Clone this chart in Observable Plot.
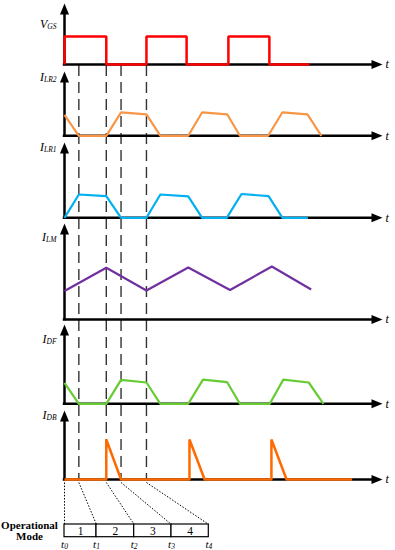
<!DOCTYPE html>
<html><head><meta charset="utf-8">
<script src="https://cdn.jsdelivr.net/npm/d3@7"></script>
<script src="https://cdn.jsdelivr.net/npm/@observablehq/plot@0.6"></script>
<style>body{margin:0;background:#fff;}</style>
</head><body><div id="chart"></div>
<script>
// ---------- data (time in arbitrary units: one switching period = 10) ----------
const vgs  = [[0,0],[0,28],[5.1,28],[5.1,0],[10,0],[10,28],[14.9,28],[14.9,0],[20,0],[20,28],[25,28],[25,0],[29.9,0]];
const iLr2 = [[0,21],[1.75,0],[5.1,0],[6.9,23.5],[10,21.5],[11.7,0],[15.1,0],[16.8,23.5],[19.85,21.5],[21.4,0],[24.85,0],[26.6,23.5],[29.65,21.5],[31.35,0]];
const iLr1 = [[0,0],[1.75,23.3],[5.1,21.6],[6.9,0],[10,0],[11.7,23.3],[15.1,21.5],[16.8,0],[19.8,0],[21.6,23.8],[24.9,21.6],[26.6,0],[29.7,0]];
const iLm  = [[0,28.5],[5.1,51.7],[10,29],[15.1,52],[20.2,29.5],[25.3,53],[30.1,30]];
const iDf  = [[0,21],[1.75,0],[5.1,0],[6.9,24],[10,21.3],[11.7,0],[15.1,0],[16.9,24.2],[19.85,21.6],[21.4,0],[25.05,0],[26.7,24.2],[29.8,21.3],[31.6,0]];
const iDb  = [[0,0],[5.1,0],[5.1,40],[6.9,0],[15.25,0],[15.25,40],[17.1,0],[25.25,0],[25.25,40],[27.1,0],[35.1,0]];
const signalNames  = ["V_GS","I_LR2","I_LR1","I_LM","I_DF","I_DB"];
const signalColors = ["#ff0000","#f79646","#00b0f0","#7030a0","#66cc33","#ff6a00"];
const instants      = [0, 1.75, 5.1, 6.9, 10];
const instantLabels = ["t_0","t_1","t_2","t_3","t_4"];
const modes    = ["1","2","3","4"];
const rowTitle = ["Operational","Mode"];
const axisLabel = "t";

// ---------- layout ----------
const W = 395, H = 550;
const pxPerUnit = 8.195, originPx = 64;
const ux = px => (px - originPx) / pxPerUnit;
const baselines = [64, 135.3, 217.3, 319, 403.3, 479];
const tips      = [3, 71, 142, 223, 324, 410];
const labelY    = [24, 77, 147, 237, 339, 415];
const boxX      = [64, 96, 133.7, 171, 208.3].map(ux);
const serif = "'Liberation Serif','Times New Roman',serif";
const signals = [vgs, iLr2, iLr1, iLm, iDf, iDb];
const idx = d3.range(signals.length);

const arrowUp = {draw(ctx){ ctx.moveTo(0,0); ctx.lineTo(-4.5,11); ctx.lineTo(4.5,11); ctx.closePath(); }};
const arrowRight = {draw(ctx){ ctx.moveTo(0,0); ctx.lineTo(-11,-4.5); ctx.lineTo(-11,4.5); ctx.closePath(); }};

const marks = [
  Plot.ruleX(instants.slice(1), {y1: 65, y2: 479, stroke: "#333", strokeWidth: 1.4, strokeDasharray: "11,6"}),
  Plot.link(instants, {x1: d => d, y1: 482, x2: (d, i) => boxX[i], y2: 524, stroke: "#000", strokeWidth: 1, strokeDasharray: "1.5,1.6"}),
  Plot.ruleY(idx, {y: i => baselines[i], x1: -0.15, x2: ux(372), stroke: "#000", strokeWidth: 2.5}),
  Plot.ruleX(idx, {x: 0, y1: i => baselines[i] + 1.25, y2: i => tips[i] + 9, stroke: "#000", strokeWidth: 2.5}),
  Plot.dot(idx, {x: 0, y: i => tips[i], symbol: arrowUp, fill: "#000", stroke: "none"}),
  Plot.dot(idx, {x: ux(382), y: i => baselines[i], symbol: arrowRight, fill: "#000", stroke: "none"}),
  Plot.text(idx, {x: ux(385), y: i => baselines[i], text: () => axisLabel, textAnchor: "start", fontFamily: serif, fontStyle: "italic", fontSize: 12, fill: "#000"}),
  ...idx.map(k => Plot.line(signals[k], {x: d => d[0], y: d => baselines[k] - d[1], stroke: signalColors[k], strokeWidth: k === 0 || k === 5 ? 2.5 : 2.2, strokeLinejoin: "miter", strokeLinecap: "butt"})),
  Plot.text(signalNames, {x: ux(56), y: (d, i) => labelY[i], textAnchor: "end", fontFamily: serif, fontStyle: "italic", fontSize: 12, fill: "#000"}),
  Plot.rect(modes, {x1: (d, i) => boxX[i], x2: (d, i) => boxX[i + 1], y1: 524, y2: 536.7, fill: "#fff", stroke: "#000", strokeWidth: 1.2}),
  Plot.text(modes, {x: (d, i) => (boxX[i] + boxX[i + 1]) / 2, y: 530.5, fontFamily: serif, fontSize: 11.5, fill: "#000"}),
  Plot.text(instantLabels, {x: (d, i) => boxX[i], y: 543.5, fontFamily: serif, fontStyle: "italic", fontSize: 11, fill: "#000"}),
  Plot.text(rowTitle, {x: ux(29), y: (d, i) => [525, 536][i], fontFamily: serif, fontWeight: "bold", fontSize: 11, fill: "#000"})
];

const chart = Plot.plot({
  width: W, height: H,
  marginTop: 0, marginRight: 0, marginBottom: 0, marginLeft: 0,
  x: {domain: [ux(0), ux(W)], range: [0, W], axis: null},
  y: {domain: [0, H], range: [0, H], axis: null},
  style: {background: "#fff", overflow: "visible"},
  marks
});

// subscripts
chart.querySelectorAll("text").forEach(t => {
  const s = t.textContent;
  if (s.includes("_")) {
    const [a, b] = s.split("_");
    t.textContent = a;
    const ts = document.createElementNS("http://www.w3.org/2000/svg", "tspan");
    ts.setAttribute("font-size", "7.5");
    ts.setAttribute("dy", a === "t" ? "1.2" : "1");
    ts.textContent = b;
    t.appendChild(ts);
  }
});
document.getElementById("chart").appendChild(chart);
</script>
</body></html>
